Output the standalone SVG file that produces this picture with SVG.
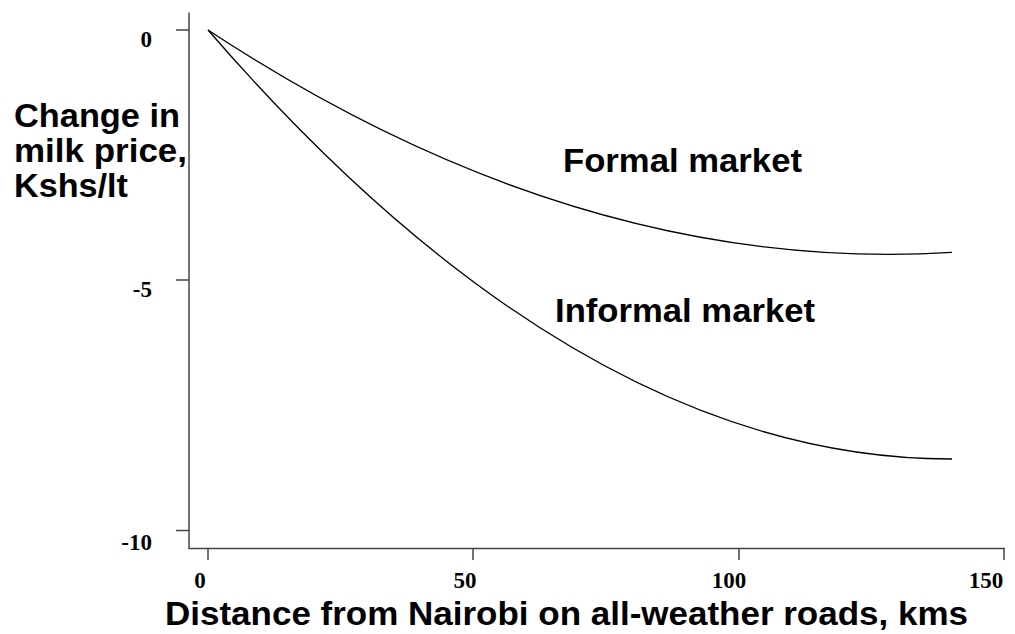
<svg xmlns="http://www.w3.org/2000/svg" width="1015" height="634" viewBox="0 0 1015 634">
<style>
.axis{stroke:#444;stroke-width:1.5;fill:none}
.curve{stroke:#000;stroke-width:1.3;fill:none}
.tick{font-family:"Liberation Serif","Times New Roman",serif;font-weight:bold;font-size:23px;fill:#000}
.lbl{font-family:"Liberation Sans",Arial,sans-serif;font-weight:bold;font-size:33px;fill:#000}
</style>
<rect width="1015" height="634" fill="#fff"/>
<g id="axes">
<path class="axis" d="M189,12.5 V548.5 H1005"/>
<path class="axis" d="M176,30 H189 M176,280 H189 M176,530.5 H189"/>
<path class="axis" d="M208,548.5 V560 M473,548.5 V560 M739,548.5 V560 M1004,548.5 V560"/>
</g>
<g id="y-ticks">
<text class="tick" x="152" y="47" text-anchor="end">0</text>
<text class="tick" x="152" y="297" text-anchor="end">-5</text>
<text class="tick" x="152" y="550" text-anchor="end">-10</text>
</g>
<g id="x-ticks">
<text class="tick" x="200" y="588" text-anchor="middle">0</text>
<text class="tick" x="465" y="588" text-anchor="middle">50</text>
<text class="tick" x="729" y="588" text-anchor="middle">100</text>
<text class="tick" x="986" y="588" text-anchor="middle">150</text>
</g>
<g id="curves">
<path id="formal-curve" class="curve" d="M208,30 Q580,275.3 952,252.4"/>
<path id="informal-curve" class="curve" d="M208,30 Q580,459.7 952,459"/>
</g>
<g id="formal-label">
<text class="lbl" x="563" y="172" textLength="239" lengthAdjust="spacingAndGlyphs">Formal market</text>
</g>
<g id="informal-label">
<text class="lbl" x="555" y="322" textLength="260" lengthAdjust="spacingAndGlyphs">Informal market</text>
</g>
<g id="y-title">
<text class="lbl" x="14" y="127" textLength="166" lengthAdjust="spacingAndGlyphs">Change in</text>
<text class="lbl" x="14" y="162" textLength="173" lengthAdjust="spacingAndGlyphs">milk price,</text>
<text class="lbl" x="14" y="197" textLength="114" lengthAdjust="spacingAndGlyphs">Kshs/lt</text>
</g>
<g id="x-title">
<text class="lbl" x="165" y="625" textLength="803" lengthAdjust="spacingAndGlyphs">Distance from Nairobi on all-weather roads, kms</text>
</g>
</svg>
